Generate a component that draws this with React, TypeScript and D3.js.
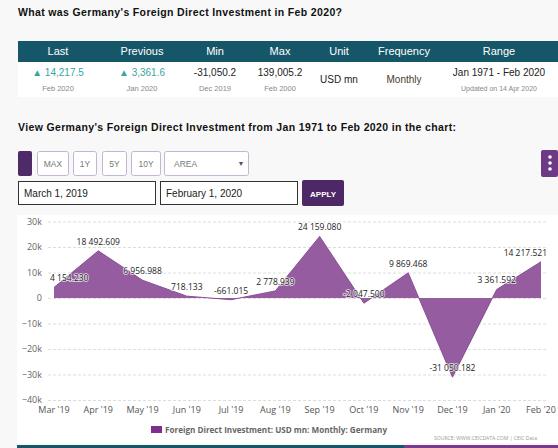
import React, { useEffect, useRef } from "react";
import * as d3 from "d3";

const MONTHS = ["Mar '19", "Apr '19", "May '19", "Jun '19", "Jul '19", "Aug '19", "Sep '19", "Oct '19", "Nov '19", "Dec '19", "Jan '20", "Feb '20"];
const VALUES = [4154.23, 18492.609, 6956.988, 718.133, -661.015, 2778.939, 24159.08, -2047.5, 9869.468, -31050.182, 3361.592, 14217.521];
const Y_TICKS = [-40000, -30000, -20000, -10000, 0, 10000, 20000, 30000];

const TABLE_HEADERS = ["Last", "Previous", "Min", "Max", "Unit", "Frequency", "Range"];
const TABLE_MAIN = ["14,217.5", "3,361.6", "-31,050.2", "139,005.2", "USD mn", "Monthly", "Jan 1971 - Feb 2020"];
const TABLE_SUB = ["Feb 2020", "Jan 2020", "Dec 2019", "Feb 2000", "", "", "Updated on 14 Apr 2020"];
const COL_X = [58, 142, 215, 280, 339, 404, 499];

const BUTTONS = [
  { label: "MAX", x: 37, w: 31 },
  { label: "1Y", x: 73, w: 23 },
  { label: "5Y", x: 102, w: 24 },
  { label: "10Y", x: 131, w: 29 },
];

const LEGEND = "Foreign Direct Investment: USD mn: Monthly: Germany";
const SOURCE = "SOURCE: WWW.CEICDATA.COM | CEIC Data";

const ARIAL = "'Liberation Sans', Arial, sans-serif";
const CHART_FONT = "'Open Sans', sans-serif";

export default function App() {
  const ref = useRef<SVGGElement | null>(null);

  const x = d3.scaleLinear().domain([0, MONTHS.length - 1]).range([54, 541]);
  const y = d3.scaleLinear().domain([-40000, 30000]).range([400, 221.5]);
  const plotLeft = 48;
  const plotRight = 546;

  const locale = d3.formatLocale({ decimal: ".", thousands: " ", grouping: [3], currency: ["", ""], minus: "-" });
  const fmt = locale.format(",.3f");

  const area = d3.area<number>().x((_, i) => x(i)).y0(y(0)).y1((d) => y(d));
  const line = d3.line<number>().x((_, i) => x(i)).y((d) => y(d));

  useEffect(() => {
    if (!ref.current) return;
    const g = d3.select(ref.current);
    g.selectAll("*").remove();
    VALUES.forEach((v, i) => {
      const t = g
        .append("text")
        .attr("x", x(i))
        .attr("y", y(v) - 6)
        .attr("text-anchor", "middle")
        .attr("font-family", CHART_FONT)
        .attr("font-size", 8.5)
        .attr("fill", "#222")
        .attr("stroke", "#fff")
        .attr("stroke-width", 1.6)
        .attr("stroke-opacity", 0.8)
        .attr("paint-order", "stroke")
        .text(fmt(v));
      const node = t.node() as SVGTextElement;
      const w = node.getComputedTextLength();
      let cx = x(i);
      if (cx - w / 2 < plotLeft + 2) cx = plotLeft + 2 + w / 2;
      if (cx + w / 2 > plotRight + 1) cx = plotRight + 1 - w / 2;
      t.attr("x", cx);
    });
  }, []);

  return (
    <svg width={558} height={448} style={{ position: "absolute", left: 0, top: 0 }}>
      <rect x={0} y={0} width={558} height={448} fill="#f8f8f8" />
      <text x={18} y={16} fontFamily={ARIAL} fontSize={10.5} fontWeight="bold" fill="#111" textLength={324} lengthAdjust="spacing">
        What was Germany's Foreign Direct Investment in Feb 2020?
      </text>

      {/* table */}
      <rect x={18} y={41} width={540} height={21} fill="#165669" />
      <rect x={18} y={62} width={540} height={35} fill="#ffffff" />
      {TABLE_HEADERS.map((h, i) => (
        <text key={h} x={COL_X[i]} y={55} textAnchor="middle" fontFamily={ARIAL} fontSize={11} fill="#fff">
          {h}
        </text>
      ))}
      {TABLE_MAIN.map((m, i) => {
        const single = TABLE_SUB[i] === "";
        const teal = i < 2;
        return (
          <text
            key={"m" + i}
            x={COL_X[i]}
            y={single ? 83 : 76}
            textAnchor="middle"
            fontFamily={ARIAL}
            fontSize={10}
            fill={teal ? "#3aa5a0" : i === 5 ? "#4a3a2a" : "#222"}
          >
            {teal ? "▲ " + m : m}
          </text>
        );
      })}
      {TABLE_SUB.map((s, i) =>
        s ? (
          <text key={"s" + i} x={COL_X[i]} y={91} textAnchor="middle" fontFamily={ARIAL} fontSize={i === 6 ? 7 : 7.5} fill="#888">
            {s}
          </text>
        ) : null
      )}

      <text x={18} y={131} fontFamily={ARIAL} fontSize={10.5} fontWeight="bold" fill="#111" textLength={438} lengthAdjust="spacing">
        View Germany's Foreign Direct Investment from Jan 1971 to Feb 2020 in the chart:
      </text>

      {/* controls */}
      <rect x={18} y={151} width={14} height={25} rx={2} fill="#4f2a68" />
      {BUTTONS.map((b) => (
        <g key={b.label}>
          <rect x={b.x + 0.5} y={151.5} width={b.w} height={24} rx={2} fill="#fff" stroke="#c4b6d2" />
          <text x={b.x + b.w / 2 + 0.5} y={167} textAnchor="middle" fontFamily={ARIAL} fontSize={8.5} fill="#777">
            {b.label}
          </text>
        </g>
      ))}
      <rect x={164.5} y={151.5} width={84} height={24} rx={2} fill="#fff" stroke="#c4b6d2" />
      <text x={174} y={167} fontFamily={ARIAL} fontSize={8.5} fill="#777">AREA</text>
      <text x={241} y={166} fontFamily={ARIAL} fontSize={7} fill="#555" textAnchor="middle">▼</text>
      <rect x={541} y={150} width={17} height={27} rx={2} fill="#6e3a86" />
      <circle cx={550} cy={157} r={1.8} fill="#fff" />
      <circle cx={550} cy={163} r={1.8} fill="#fff" />
      <circle cx={550} cy={169} r={1.8} fill="#fff" />

      <rect x={18.5} y={181.5} width={137} height={23} fill="#fff" stroke="#333" />
      <text x={24} y={197} fontFamily={ARIAL} fontSize={10} fill="#222">March 1, 2019</text>
      <rect x={160.5} y={181.5} width={137} height={23} fill="#fff" stroke="#333" />
      <text x={166} y={197} fontFamily={ARIAL} fontSize={10} fill="#222">February 1, 2020</text>
      <rect x={302} y={180} width={42} height={26} rx={2} fill="#4e2767" />
      <text x={323} y={197} textAnchor="middle" fontFamily={ARIAL} fontSize={8} fontWeight="bold" fill="#fff">APPLY</text>

      {/* chart panel */}
      <rect x={17} y={215} width={541} height={228} fill="#fff" />
      {Y_TICKS.map((t) => (
        <g key={t}>
          <line x1={plotLeft} x2={plotRight} y1={y(t) + 0.5} y2={y(t) + 0.5} stroke="#ddd" strokeDasharray="3,2" />
          <text x={42} y={y(t) + 3} textAnchor="end" fontFamily={CHART_FONT} fontSize={9} fill="#666">
            {t === 0 ? "0" : `${t < 0 ? "−" : ""}${Math.abs(t) / 1000}k`}
          </text>
        </g>
      ))}
      <path d={area(VALUES) || ""} fill="#955d9f" />
      <path d={line(VALUES) || ""} fill="none" stroke="#8a4e95" strokeWidth={1} />
      {MONTHS.map((m, i) => (
        <text key={m} x={x(i)} y={413} textAnchor="middle" fontFamily={CHART_FONT} fontSize={9} fill="#555">
          {m}
        </text>
      ))}
      <g ref={ref} />

      {/* legend */}
      <rect x={151} y={426} width={11} height={7} fill="#7d2f8e" />
      <text x={165} y={433} fontFamily={CHART_FONT} fontSize={8} fontWeight="bold" fill="#666" textLength={222} lengthAdjust="spacingAndGlyphs">
        {LEGEND}
      </text>
      <text x={434} y={440} fontFamily={CHART_FONT} fontSize={5} fill="#999" textLength={103} lengthAdjust="spacingAndGlyphs">
        {SOURCE}
      </text>

      <rect x={17} y={445} width={387} height={3} fill="#165669" />
      <rect x={404} y={445} width={154} height={3} fill="#7b3a8b" />
    </svg>
  );
}
